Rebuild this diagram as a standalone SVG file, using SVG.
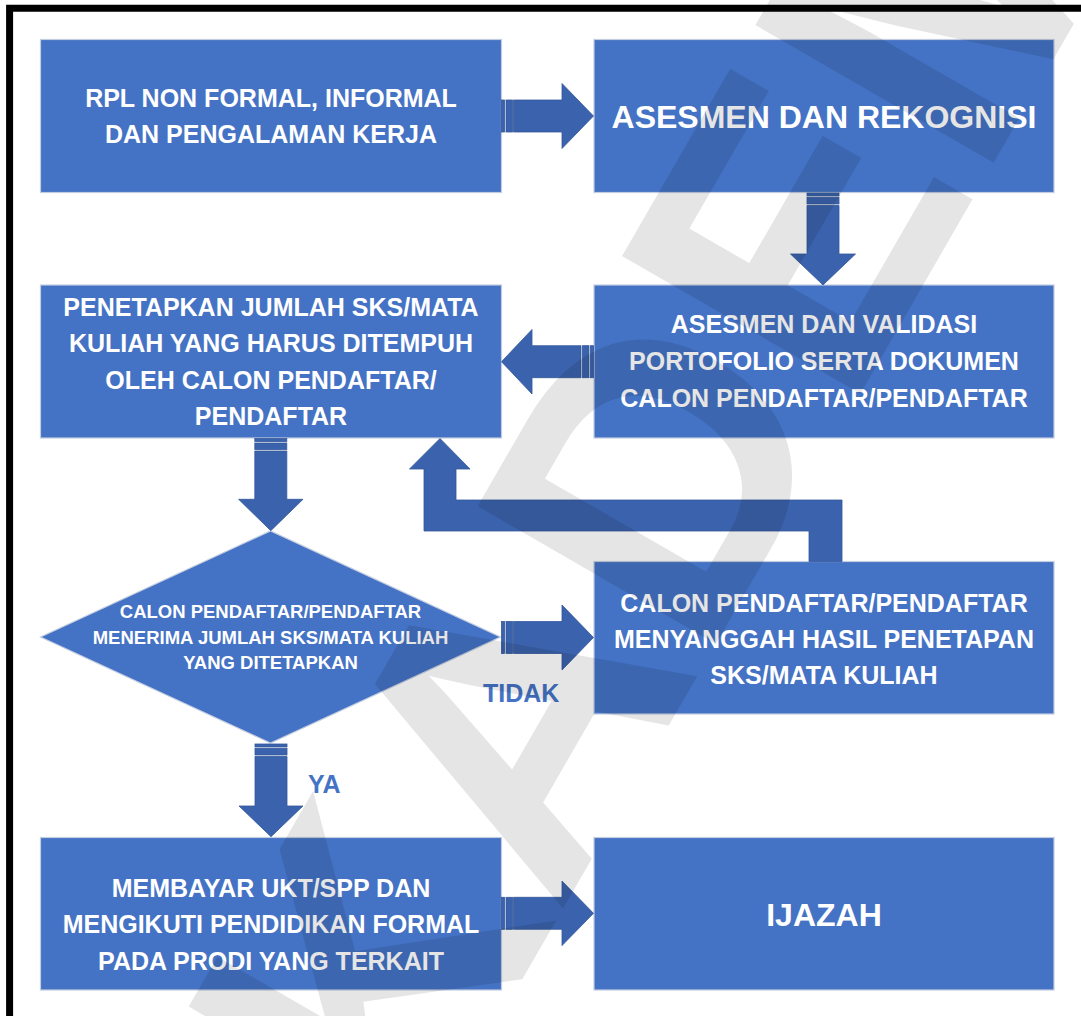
<svg xmlns="http://www.w3.org/2000/svg" width="1081" height="1016" viewBox="0 0 1081 1016">
<style>
.box{fill:#4472C4;stroke:#c3cde0;stroke-width:1.2}
.t{font-family:"Liberation Sans",Arial,sans-serif;font-weight:bold;fill:#ffffff;text-anchor:middle}
.arr{fill:#3B63AD;stroke:#33579a;stroke-width:0.8}
.lbl{font-family:"Liberation Sans",Arial,sans-serif;font-weight:bold;fill:#4472C4;font-size:25px}
.wm{font-family:"Liberation Sans",Arial,sans-serif;font-weight:bold;fill:#000;fill-opacity:0.1;font-size:400px}
</style>
<rect width="1081" height="1016" fill="#ffffff"/>
<path d="M9.6,1016 V8.3 H1081" fill="none" stroke="#000" stroke-width="7"/>

<g id="n1">
<rect class="box" x="40.5" y="39.5" width="461" height="153"/>
<text class="t" font-size="25" x="271" y="107">RPL NON FORMAL, INFORMAL</text>
<text class="t" font-size="25" x="271" y="143">DAN PENGALAMAN KERJA</text>
</g>
<g id="n2">
<rect class="box" x="594" y="39.5" width="460" height="153"/>
<text class="t" font-size="32" x="824" y="128">ASESMEN DAN REKOGNISI</text>
</g>
<g id="n3">
<rect class="box" x="40.5" y="285" width="461" height="153"/>
<text class="t" font-size="25" x="271" y="315.5">PENETAPKAN JUMLAH SKS/MATA</text>
<text class="t" font-size="25" x="271" y="352">KULIAH YANG HARUS DITEMPUH</text>
<text class="t" font-size="25" x="271" y="388.5">OLEH CALON PENDAFTAR/</text>
<text class="t" font-size="25" x="271" y="425">PENDAFTAR</text>
</g>
<g id="n4">
<rect class="box" x="594" y="285" width="460" height="153"/>
<text class="t" font-size="25" x="824" y="333">ASESMEN DAN VALIDASI</text>
<text class="t" font-size="25" x="824" y="370">PORTOFOLIO SERTA DOKUMEN</text>
<text class="t" font-size="25" x="824" y="406.5">CALON PENDAFTAR/PENDAFTAR</text>
</g>
<g id="n5">
<polygon class="box" points="40.5,637 270.5,531 500.5,637 270.5,743"/>
<text class="t" font-size="18.5" x="270.5" y="618">CALON PENDAFTAR/PENDAFTAR</text>
<text class="t" font-size="18.5" x="270.5" y="644">MENERIMA JUMLAH SKS/MATA KULIAH</text>
<text class="t" font-size="18.5" x="270.5" y="669">YANG DITETAPKAN</text>
</g>
<g id="n6">
<rect class="box" x="594" y="561.5" width="460" height="152.5"/>
<text class="t" font-size="25" x="824" y="611.5">CALON PENDAFTAR/PENDAFTAR</text>
<text class="t" font-size="25" x="824" y="647.5">MENYANGGAH HASIL PENETAPAN</text>
<text class="t" font-size="25" x="824" y="683.5">SKS/MATA KULIAH</text>
</g>
<g id="n7">
<rect class="box" x="40.5" y="837.5" width="461" height="152.5"/>
<text class="t" font-size="25" x="271" y="896.5">MEMBAYAR UKT/SPP DAN</text>
<text class="t" font-size="25" x="271" y="933">MENGIKUTI PENDIDIKAN FORMAL</text>
<text class="t" font-size="25" x="271" y="970">PADA PRODI YANG TERKAIT</text>
</g>
<g id="n8">
<rect class="box" x="594" y="837.5" width="460" height="152.5"/>
<text class="t" font-size="32" x="824" y="926">IJAZAH</text>
</g>

<g id="connectors">
<rect class="arr" x="501.5" y="100" width="3" height="32"/>
<rect class="arr" x="506" y="100" width="6.5" height="32"/>
<polygon class="arr" points="513.5,100 562,100 562,83.5 593.5,116 562,148.5 562,132 513.5,132"/>
<rect class="arr" x="807" y="193" width="32" height="3"/>
<rect class="arr" x="807" y="197.5" width="32" height="6.5"/>
<polygon class="arr" points="807,205.5 839,205.5 839,254 855.5,254 823,285 790.5,254 807,254"/>
<rect class="arr" x="590.5" y="345.7" width="3" height="32"/>
<rect class="arr" x="582.5" y="345.7" width="6.5" height="32"/>
<polygon class="arr" points="581,345.7 532,345.7 532,329.5 501.5,361.7 532,394 532,377.7 581,377.7"/>
<rect class="arr" x="254.8" y="438.5" width="32" height="3"/>
<rect class="arr" x="254.8" y="443" width="32" height="6.5"/>
<polygon class="arr" points="254.8,451 286.8,451 286.8,499.3 303,499.3 270.8,530.7 238.6,499.3 254.8,499.3"/>
<rect class="arr" x="255" y="744" width="32" height="3"/>
<rect class="arr" x="255" y="748.5" width="32" height="6.5"/>
<polygon class="arr" points="255,756.5 287,756.5 287,806 303,806 271,836.7 239,806 255,806"/>
<text class="lbl" x="308" y="793">YA</text>
<rect class="arr" x="501.5" y="621.5" width="3" height="32"/>
<rect class="arr" x="506" y="621.5" width="6.5" height="32"/>
<polygon class="arr" points="513.5,621.5 562,621.5 562,605 593.5,637.5 562,670 562,653.5 513.5,653.5"/>
<text class="lbl" x="483" y="702">TIDAK</text>
<polygon class="arr" points="424,531 424,469 409.5,469 440,438.5 470,469 456,469 456,500 842,500 842,561.5 809,561.5 809,531"/>
<rect class="arr" x="501.5" y="897.3" width="3" height="32"/>
<rect class="arr" x="506" y="897.3" width="6.5" height="32"/>
<polygon class="arr" points="513.5,897.3 562,897.3 562,881 593.5,913.3 562,945.6 562,929.3 513.5,929.3"/>
</g>

<text class="wm" transform="translate(650,470) rotate(-60)" x="-1011" y="144">AKADEMIK</text>
</svg>
